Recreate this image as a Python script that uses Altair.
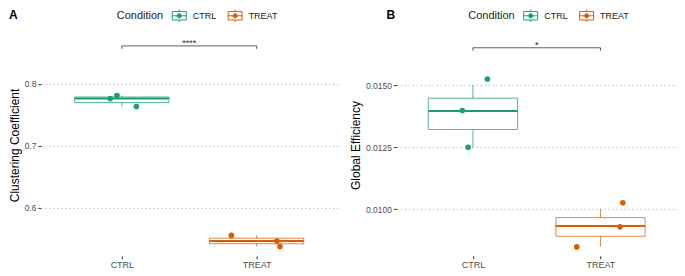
import altair as alt
import pandas as pd

categories = ["CTRL", "TREAT"]
colors = ["#1B9E77", "#D95F02"]

# Panel A: Clustering Coefficient
cc_ctrl = [0.763, 0.776, 0.781]
cc_treat = [0.537, 0.546, 0.555]
cc_ctrl_jitter = [0.108, -0.086, -0.036]
cc_treat_jitter = [0.173, 0.151, -0.187]
cc_ticks = [0.6, 0.7, 0.8]
cc_domain = [0.522, 0.880]
cc_bracket = [0.861, 0.8563]
cc_stars = "****"

# Panel B: Global Efficiency
ge_ctrl_box = [0.01247, 0.01396, 0.01500]
ge_treat_box = [0.00850, 0.00932, 0.01000]
ge_ctrl_pts = [0.01250, 0.01398, 0.01525]
ge_treat_pts = [0.00848, 0.00929, 0.01026]
ge_ctrl_jitter = [-0.038, -0.083, 0.113]
ge_treat_jitter = [-0.186, 0.153, 0.175]
ge_ticks = [0.0100, 0.0125, 0.0150]
ge_domain = [0.00812, 0.01706]
ge_bracket = [0.01651, 0.01639]
ge_stars = "*"

# legend key drawn as open line segments (box outline, median, whisker stubs) + dot
LEGEND_PATH = ("M-1,-0.6L1,-0.6 M1,-0.6L1,0.6 M1,0.6L-1,0.6 M-1,0.6L-1,-0.6 "
               "M-1,0L1,0 M0,-0.9L0,-0.6 M0,0.6L0,0.9 "
               "M-0.3,0A0.3,0.3 0 1,0 0.3,0A0.3,0.3 0 1,0 -0.3,0")


def panel(box_vals, pt_vals, jitters, domain, ticks, fmt, ytitle, bracket,
          stars, tag, tag_x, legend_x, width, height):
    rows = []
    for ci, cat in enumerate(categories):
        for b, p, j in zip(box_vals[ci], pt_vals[ci], jitters[ci]):
            rows.append({"Condition": cat, "idx": ci + 1, "box": b, "pt": p, "jit": j})
    df = pd.DataFrame(rows)

    cscale = alt.Scale(domain=categories, range=colors)
    xs = alt.Scale(domain=[0.4, 2.6], nice=False, zero=False)
    ys = alt.Scale(domain=domain, nice=False, zero=False)
    xaxis = alt.Axis(values=[1, 2], labelExpr="datum.value == 1 ? 'CTRL' : 'TREAT'",
                     title=None, grid=False, domain=False, ticks=True, labelFontSize=9)
    yaxis = alt.Axis(values=ticks, format=fmt, title=ytitle, grid=True, domain=False)
    legend = alt.Legend(orient="none", legendX=legend_x, legendY=-26,
                        direction="horizontal", titleOrient="left",
                        symbolType=LEGEND_PATH, symbolSize=196, symbolStrokeWidth=1,
                        symbolFillColor="transparent", symbolOpacity=1,
                        titleFontSize=11, titleFontWeight="normal", titleColor="#222",
                        titlePadding=8, labelFontSize=9, labelColor="#222",
                        labelOffset=6, columnPadding=9)
    col = alt.Color("Condition:N", scale=cscale, legend=legend)

    base = alt.Chart(df)
    stats = base.transform_aggregate(
        mn="min(box)", q1="q1(box)", med="median(box)", q3="q3(box)", mx="max(box)",
        groupby=["Condition", "idx"]
    ).transform_calculate(lo="datum.idx - 0.35", hi="datum.idx + 0.35")

    wlo = stats.mark_rule(strokeOpacity=0.75, strokeWidth=1).encode(
        x=alt.X("idx:Q", scale=xs, axis=xaxis),
        y=alt.Y("mn:Q", scale=ys, axis=yaxis),
        y2="q1:Q", color=col)
    whi = stats.mark_rule(strokeOpacity=0.75, strokeWidth=1).encode(
        x="idx:Q", y="q3:Q", y2="mx:Q", color=col)
    box = stats.mark_rect(filled=False, strokeOpacity=0.75, strokeWidth=1).encode(
        x="lo:Q", x2="hi:Q", y="q1:Q", y2="q3:Q", color=col)
    med = stats.mark_rule(strokeWidth=2).encode(
        x="lo:Q", x2="hi:Q", y="med:Q", color=col)
    pts = base.transform_calculate(px="datum.idx + datum.jit").mark_circle(
        size=32, opacity=1).encode(
        x="px:Q", y="pt:Q",
        fill=alt.Fill("Condition:N", scale=cscale, legend=None))

    bdf = pd.DataFrame({"x": [1.0], "x2": [2.0], "y": [bracket[0]], "label": [stars]})
    bline = alt.Chart(bdf).mark_rule(color="#333", strokeWidth=0.8).encode(
        x="x:Q", x2="x2:Q", y="y:Q")
    tdf = pd.DataFrame({"x": [1.0, 2.0], "y": [bracket[0]] * 2, "y2": [bracket[1]] * 2})
    bticks = alt.Chart(tdf).mark_rule(color="#333", strokeWidth=0.8).encode(
        x="x:Q", y="y:Q", y2="y2:Q")
    btext = alt.Chart(bdf).transform_calculate(xm="(datum.x + datum.x2) / 2").mark_text(
        fontSize=9, baseline="alphabetic", color="#222").encode(
        x="xm:Q", y="y:Q", text="label:N")

    tagc = alt.Chart(pd.DataFrame({"t": [tag]})).mark_text(
        fontWeight="bold", fontSize=12, align="left", baseline="alphabetic",
        color="#000").encode(x=alt.value(tag_x), y=alt.value(-15), text="t:N")

    return alt.layer(box, wlo, whi, med, pts, bline, bticks, btext, tagc).properties(
        width=width, height=height)


left = panel([cc_ctrl, cc_treat], [cc_ctrl, cc_treat], [cc_ctrl_jitter, cc_treat_jitter],
             cc_domain, cc_ticks, ".1f", "Clustering Coefficient", cc_bracket, cc_stars,
             "A", -32, 76, 297, 222)
right = panel([ge_ctrl_box, ge_treat_box], [ge_ctrl_pts, ge_treat_pts],
              [ge_ctrl_jitter, ge_treat_jitter],
              ge_domain, ge_ticks, ".4f", "Global Efficiency", ge_bracket, ge_stars,
              "B", -10, 72, 281, 222)

chart = alt.hconcat(left, right, spacing=12).resolve_scale(
    x="independent", y="independent", color="independent", fill="independent"
).resolve_legend(color="independent").properties(
    padding={"left": 0, "top": 0, "right": 0, "bottom": 0}
).configure_view(stroke=None).configure_axis(
    labelFont="Liberation Sans", titleFont="Liberation Sans",
    labelFontSize=8.5, labelColor="#4d4d4d", tickColor="#333", tickSize=3,
    labelPadding=2, titleFontSize=12, titleFontWeight="normal", titleColor="#000",
    titlePadding=3, gridColor="#999999", gridDash=[1, 3], gridWidth=0.9
).configure_legend(labelFont="Liberation Sans", titleFont="Liberation Sans"
).configure_text(font="Liberation Sans")

chart.save("out.html", embed_options={"renderer": "svg", "actions": False})
